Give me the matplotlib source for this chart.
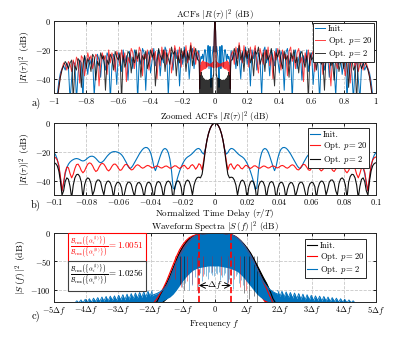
import numpy as np
import matplotlib
matplotlib.use('Agg')
import matplotlib.pyplot as plt

plt.rcParams['font.family'] = 'serif'
plt.rcParams['font.serif'] = ['cmr10']
plt.rcParams['mathtext.fontset'] = 'cm'
plt.rcParams['axes.unicode_minus'] = True

# ---- ACF data (right half, |R| is symmetric in tau) ----
tau_fine = np.round(np.arange(0, 0.1001, 0.001), 3)    # 0 .. 0.1
tau_coarse = np.round(np.arange(0.11, 1.0001, 0.01), 2)  # 0.11 .. 1

init_fine = [0, -0.4, -1.6, -3.8, -7.2, -12, -18, -21.5, -20.5, -18.5,
             -17.6, -17.8, -18.6, -19.8, -21, -22, -22.8, -23.5, -24.5, -26,
             -28, -30.5, -33.5, -37, -41, -46, -45, -33, -25, -20.5,
             -18.3, -17.6, -18.2, -20, -23, -26.5, -30, -33, -30, -24.5,
             -20.5, -18.2, -17.1, -16.9, -17.3, -18.3, -19.8, -21.5, -23.5, -25.5,
             -27.5, -29.5, -31, -31.5, -30, -27.5, -25.5, -23.5, -22, -21,
             -20.4, -20, -19.8, -19.8, -20.1, -20.8, -21.8, -23, -24.5, -26,
             -27, -27.5, -27, -25.8, -24.5, -23.5, -23, -23, -23.4, -24.2,
             -25.2, -26, -26.3, -26, -25.3, -24.8, -24.6, -24.8, -25.3, -26,
             -27, -28.5, -31, -35, -42, -47, -38, -30, -25, -22, -20.5]
p20_fine = [0, -0.4, -1.6, -3.8, -7.2, -12, -18.5, -26, -32.5, -29,
            -28.2, -30.5, -32, -30, -28.8, -29.5, -31.2, -31.8, -30.5, -29.3,
            -29.6, -30.8, -31.5, -30.8, -29.8, -29.6, -30.3, -31.2, -31.3, -30.5,
            -29.8, -29.9, -30.6, -31.2, -30.9, -30.1, -29.7, -30.1, -30.9, -31.1,
            -30.4, -29.6, -29.4, -30, -30.9, -31.3, -30.6, -29.5, -28.9, -29.4,
            -30.8, -32.2, -32.5, -31.2, -29.5, -28.6, -29, -30.6, -32.4, -32.8,
            -31.3, -29.4, -28.4, -28.6, -30, -32, -33.2, -32.3, -30.2, -28.5,
            -27.9, -28.6, -30.5, -32.8, -33.6, -32, -29.6, -28, -27.6, -28.5,
            -30.6, -33.2, -34.5, -33, -30.3, -28.5, -28.8, -31.5, -35.5, -38,
            -35, -31, -30.5, -34, -41, -47, -37, -29, -25.5, -24, -23.5]
p2_fine = [0, -0.4, -1.6, -3.8, -7.2, -12, -19, -28, -35.5, -38,
           -37.5, -37.8, -39.5, -43, -50, -44, -40.5, -39.5, -40.5, -44,
           -53, -44.5, -41, -40, -41, -44.5, -54, -44, -41, -40.2,
           -41, -44, -52, -45, -41.5, -40.5, -41.2, -44.5, -53, -45.5,
           -42, -41, -41.5, -44.5, -52, -46, -42.5, -41.2, -41.5, -44,
           -51, -47, -42.5, -41, -41, -43, -48, -53, -45, -42,
           -41, -41.5, -44, -52, -45, -41.5, -40.2, -40.5, -43, -50,
           -46, -41, -39.5, -39.5, -41.5, -47, -50, -42, -38.8, -38,
           -39.2, -43, -52, -41, -37, -35.5, -35.8, -38, -43, -52,
           -44, -39, -38, -40.5, -47, -50, -40, -33, -29.5, -28, -27.5]

init_coarse = [-27, -22, -33, -19, -24, -40, -21, -28, -18, -30,
               -23, -45, -20, -26, -19, -34, -22, -27, -52, -21,
               -18, -29, -24, -38, -20, -25, -31, -19, -27, -36,
               -21, -24, -48, -22, -19, -30, -25, -55, -23, -20,
               -33, -26, -21, -41, -24, -29, -20, -35, -26, -22,
               -44, -27, -23, -31, -55, -25, -22, -34, -28, -24,
               -39, -27, -23, -33, -52, -26, -30, -25, -37, -28,
               -24, -55, -29, -27, -36, -55, -30, -28, -40, -55,
               -32, -29, -34, -31, -33, -36, -42, -52, -65, -80]
p20_coarse = [-21, -30, -18, -26, -15, -23, -29, -17, -25, -21,
              -32, -18, -27, -22, -17, -28, -36, -19, -24, -30,
              -20, -26, -18, -31, -23, -40, -21, -27, -19, -25,
              -34, -20, -26, -23, -38, -21, -18, -28, -24, -33,
              -22, -19, -29, -25, -42, -22, -27, -20, -31, -24,
              -21, -35, -26, -22, -29, -20, -37, -24, -27, -22,
              -30, -45, -25, -23, -28, -33, -24, -27, -22, -31,
              -38, -26, -24, -43, -28, -25, -32, -27, -35, -30,
              -28, -34, -30, -29, -33, -38, -46, -56, -68, -80]
p2_coarse = [-26, -19, -24, -31, -17, -27, -22, -35, -20, -26,
             -19, -29, -24, -38, -21, -23, -18, -30, -26, -22,
             -35, -20, -27, -24, -19, -29, -45, -22, -25, -20,
             -28, -33, -21, -27, -24, -39, -22, -26, -20, -29,
             -25, -36, -23, -21, -28, -32, -24, -55, -22, -27,
             -25, -21, -34, -26, -23, -30, -27, -48, -24, -26,
             -22, -31, -28, -41, -25, -23, -35, -29, -26, -33,
             -24, -30, -46, -28, -26, -34, -31, -55, -27, -29,
             -33, -30, -28, -31, -34, -39, -47, -55, -70, -80]

# ---- spectrum data (frequency in units of delta f) ----
f_env = np.round(np.arange(-2.0, 2.0001, 0.1), 1)
init_up = [-125, -124, -120, -108, -98, -88, -76, -62, -48, -35, -25, -17, -11, -7, -4.5, -3, -2, -1.5, -1, -0.8,
           -0.5, -0.8, -1, -1.5, -2.5, -3.5, -5.5, -9, -14, -20, -27, -35, -45, -56, -67, -78, -88, -100, -115, -124, -125]
init_lo = [-125, -125, -125, -125, -120, -115, -105, -92, -80, -68, -58, -52, -48, -46, -44, -43, -42, -41, -40, -40,
           -40, -40, -40, -41, -42, -43, -45, -47, -50, -55, -62, -70, -80, -92, -104, -113, -120, -125, -125, -125, -125]
p20_up = [-125, -122, -115, -106, -96, -84, -70, -56, -42, -30, -21, -14, -9, -6, -4, -2.8, -2, -1.5, -1, -0.8,
          -0.6, -0.8, -1.2, -1.8, -2.6, -3.8, -5.8, -9.5, -15, -22, -30, -39, -50, -62, -74, -86, -97, -110, -122, -125, -125]
p20_lo = [-125, -125, -125, -122, -116, -108, -98, -86, -74, -63, -55, -50, -47, -45, -44, -43, -42, -41, -40, -40,
          -40, -40, -41, -42, -43, -44, -46, -49, -53, -59, -66, -75, -86, -98, -110, -118, -125, -125, -125, -125, -125]
p2_up = [-112, -108, -106, -103, -99, -92, -80, -66, -52, -40, -30, -21, -14, -9, -5.5, -3.5, -2.5, -2, -1.5, -1.2,
         -1, -1.2, -1.5, -2, -2.8, -4, -6, -10, -15, -22, -30, -39, -50, -62, -74, -85, -93, -99, -103, -106, -108]
p2_lo = [-125, -125, -125, -122, -118, -115, -112, -107, -100, -92, -84, -77, -71, -66, -63, -61, -60, -59, -58, -58,
         -58, -58, -59, -60, -61, -63, -65, -68, -73, -79, -86, -93, -100, -107, -112, -116, -119, -121, -124, -125, -125]

# deep dips inside the band
init_spk_f = [-1.1, -0.95, 0.9, 1.05, 1.2, 1.3]
init_spk_db = [-90, -100, -105, -115, -110, -120]
p20_spk_f = [-1.25, -1.05, -0.88, -0.7, -0.55, -0.38, -0.1, 0.2, 0.42, 0.6, 0.78, 0.95, 1.1]
p20_spk_db = [-80, -95, -85, -90, -100, -75, -68, -74, -88, -80, -95, -100, -85]
p2_spk_f = [-1.15, -1.02, -0.93, -0.81, -0.72, -0.63, -0.52, -0.41, -0.33, -0.22, -0.12, -0.04,
            0.07, 0.16, 0.27, 0.36, 0.45, 0.56, 0.64, 0.75, 0.86, 0.97, 1.08,
            -0.47, -0.27, -0.17, -0.08, 0.02, 0.11, 0.22, 0.31, 0.4, 0.51, 0.69, 0.8]
p2_spk_db = [-85, -95, -88, -100, -92, -78, -105, -85, -72, -80, -70, -75,
             -72, -82, -74, -90, -80, -98, -76, -88, -92, -84, -90,
             -70, -76, -68, -73, -70, -68, -78, -70, -86, -74, -72, -82]
spk_top = -40

# far sidelobes of p = 2 (right side, mirrored to the left)
sl_f = [1.95, 2.02, 2.08, 2.15, 2.21, 2.28, 2.34, 2.41, 2.47, 2.54, 2.60, 2.67, 2.73, 2.80, 2.86, 2.93,
        2.99, 3.06, 3.12, 3.19, 3.25, 3.32, 3.38, 3.45, 3.51, 3.58, 3.64, 3.71, 3.77, 3.84, 3.90, 3.97,
        4.03, 4.10, 4.16, 4.23, 4.29, 4.36]
sl_db = [-101, -111, -102, -112, -103, -113, -104, -114, -105, -115, -106, -116, -107, -117, -108, -117,
         -109, -118, -110, -118, -110.5, -119, -111, -119, -112, -120, -113, -120, -114, -121, -115, -121,
         -116, -122, -117, -122, -118.5, -123]

ratio_p20 = 1.0051
ratio_p2 = 1.0256


def mirror(x, y):
    x = np.asarray(x, float)
    y = np.asarray(y, float)
    return np.concatenate([-x[::-1], x[1:]]), np.concatenate([y[::-1], y[1:]])


blue = '#0072BD'
red = '#FF0000'

fig = plt.figure(figsize=(4.15, 3.4), dpi=100)
ax1 = fig.add_axes([0.130, 0.726, 0.776, 0.212])
ax2 = fig.add_axes([0.130, 0.426, 0.776, 0.212])
ax3 = fig.add_axes([0.130, 0.113, 0.776, 0.203])

tau_half = np.concatenate([tau_fine, tau_coarse])
series = [(init_fine, init_coarse, blue, 1.0, 'Init.'),
          (p20_fine, p20_coarse, red, 0.75, 'Opt. $p = 20$'),
          (p2_fine, p2_coarse, 'black', 0.8, 'Opt. $p = 2$')]
for fine, coarse, c, a, lab in series:
    x, y = mirror(tau_half, np.concatenate([fine, coarse]))
    ax1.plot(x, y, color=c, lw=0.7, alpha=a, label=lab)
    xf, yf = mirror(tau_fine, fine)
    ax2.plot(xf, yf, color=c, lw=0.8, alpha=min(1, a + 0.15), label=lab)

# spectra
for up, lo, sf, sd, c, lab in [(init_up, init_lo, init_spk_f, init_spk_db, 'black', 'Init.'),
                               (p20_up, p20_lo, p20_spk_f, p20_spk_db, red, 'Opt. $p = 20$'),
                               (p2_up, p2_lo, p2_spk_f, p2_spk_db, blue, 'Opt. $p = 2$')]:
    ax3.fill_between(f_env, lo, up, color=c, lw=0)
    ax3.plot(f_env, up, color=c, lw=0.8, label=lab)
    ax3.vlines(sf, sd, spk_top, color=c, lw=0.6, alpha=0.55)
sl_x = np.asarray(sl_f)
for s in (1, -1):
    ax3.fill_between(s * sl_x, -125, sl_db, color=blue, lw=0)
    ax3.plot(s * sl_x, sl_db, color=blue, lw=0.6)

ax3.axvline(-0.5, color=red, ls='--', lw=1.2)
ax3.axvline(0.5, color=red, ls='--', lw=1.2)
ax3.annotate('', xy=(-0.5, -92), xytext=(-0.22, -92),
             arrowprops=dict(arrowstyle='->', color='black', lw=0.7, shrinkA=0, shrinkB=0))
ax3.annotate('', xy=(0.5, -92), xytext=(0.22, -92),
             arrowprops=dict(arrowstyle='->', color='black', lw=0.7, shrinkA=0, shrinkB=0))
ax3.text(0, -92, r'$\Delta f$', ha='center', va='center', fontsize=7)

frac = r'$\frac{\mathcal{B}_{\mathrm{rms}}\left(\{\alpha_i^{(l)}\}\right)}{\mathcal{B}_{\mathrm{rms}}\left(\{\alpha_i^{(0)}\}\right)} = %.4f$'
ax3.text(0.165, 0.78, frac % ratio_p20, transform=ax3.transAxes, color=red, fontsize=6.5,
         ha='center', va='center',
         bbox=dict(boxstyle='square,pad=0.2', fc='white', ec=red, lw=0.8))
ax3.text(0.165, 0.37, frac % ratio_p2, transform=ax3.transAxes, color='black', fontsize=6.5,
         ha='center', va='center',
         bbox=dict(boxstyle='square,pad=0.2', fc='white', ec='#404040', lw=0.8))

# axes styling
t1 = np.round(np.arange(-1, 1.01, 0.2), 1) + 0.0
t2 = np.round(np.arange(-0.1, 0.101, 0.02), 2) + 0.0
ax1.set_xlim(-1, 1)
ax1.set_xticks(t1)
ax1.set_xticklabels([f'${v:g}$' for v in t1])
ax2.set_xlim(-0.1, 0.1)
ax2.set_xticks(t2)
ax2.set_xticklabels([f'${v:g}$' for v in t2])
for ax in (ax1, ax2):
    ax.set_ylim(-50, 0)
    ax.set_yticks([-40, -20, 0])
    ax.set_yticklabels(['$-40$', '$-20$', '$0$'])
    ax.set_ylabel(r'$|R(\tau)|^2$ (dB)', fontsize=7, labelpad=1)
ax3.set_xlim(-5, 5)
ax3.set_ylim(-120, 0)
ax3.set_xticks(range(-5, 6))
ax3.set_xticklabels([r'$-5\Delta f$', r'$-4\Delta f$', r'$-3\Delta f$', r'$-2\Delta f$', r'$-\Delta f$', '$0$',
                     r'$\Delta f$', r'$2\Delta f$', r'$3\Delta f$', r'$4\Delta f$', r'$5\Delta f$'])
ax3.set_yticks([-100, -50, 0])
ax3.set_yticklabels(['$-100$', '$-50$', '$0$'])
ax3.set_ylabel(r'$|S\,(f)\,|^2$ (dB)', fontsize=7, labelpad=1)

ax1.set_title(r'ACFs $|R\,(\tau)\,|^2$ (dB)', fontsize=6.5, pad=2)
ax2.set_title(r'Zoomed ACFs $|R(\tau)|^2$ (dB)', fontsize=6.5, pad=2)
ax3.set_title(r'Waveform Spectra $|S\,(f)\,|^2$ (dB)', fontsize=6.5, pad=1.5)
ax2.set_xlabel(r'Normalized Time Delay ($\tau/T$)', fontsize=6.5, labelpad=-0.5)
ax3.set_xlabel(r'Frequency $f$', fontsize=6.5, labelpad=0.5)

for ax in (ax1, ax2, ax3):
    ax.grid(True, ls='--', color='#c8c8c8', lw=0.6)
    ax.set_axisbelow(True)
    ax.tick_params(direction='in', top=True, right=True, length=2.5, width=0.6, labelsize=6, pad=2)
    for sp in ax.spines.values():
        sp.set_linewidth(0.7)
        sp.set_color('#262626')
ax2.tick_params(axis='x', pad=1.5)

leg_kw = dict(fontsize=6.2, fancybox=False, edgecolor='#262626', framealpha=1,
              handlelength=1.2, handletextpad=0.3, borderpad=0.25, labelspacing=0.15, borderaxespad=0.2)
ax1.legend(loc='upper right', **leg_kw).get_frame().set_linewidth(0.7)
ax2.legend(loc='upper right', bbox_to_anchor=(0.985, 0.95), **leg_kw).get_frame().set_linewidth(0.7)
ax3.legend(loc='upper right', bbox_to_anchor=(0.975, 0.93), **leg_kw).get_frame().set_linewidth(0.7)

fig.text(0.075, 0.688, 'a)', fontsize=7.5)
fig.text(0.075, 0.390, 'b)', fontsize=7.5)
fig.text(0.075, 0.063, 'c)', fontsize=7.5)

fig.savefig('out.png', dpi=100)
